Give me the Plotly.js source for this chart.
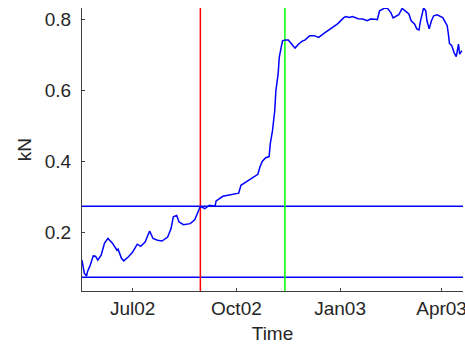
<!DOCTYPE html>
<html>
<head>
<meta charset="utf-8">
<script src="https://cdn.plot.ly/plotly-3.0.1.min.js"></script>
<style>
  html, body { margin: 0; padding: 0; background: #fff; }
  #chart { width: 465px; height: 345px; }
</style>
</head>
<body>
<div id="chart"></div>
<script>
// Daily load record, kN
const dates = [
  '2002-05-17','2002-05-19','2002-05-21','2002-05-22','2002-05-24','2002-05-27','2002-05-29','2002-05-31',
  '2002-06-03','2002-06-06','2002-06-09','2002-06-13','2002-06-17','2002-06-18','2002-06-21','2002-06-23','2002-06-27',
  '2002-07-01','2002-07-05','2002-07-08','2002-07-12','2002-07-16','2002-07-19','2002-07-23','2002-07-27','2002-08-01',
  '2002-08-04','2002-08-06','2002-08-09','2002-08-11','2002-08-15','2002-08-21','2002-08-25','2002-08-28','2002-08-30',
  '2002-09-03','2002-09-07','2002-09-12','2002-09-13','2002-09-19','2002-09-28',
  '2002-10-03','2002-10-05','2002-10-11','2002-10-16','2002-10-20','2002-10-22','2002-10-24','2002-10-27','2002-10-30','2002-10-31',
  '2002-11-02','2002-11-04','2002-11-05','2002-11-07','2002-11-08','2002-11-10','2002-11-11','2002-11-14','2002-11-16',
  '2002-11-20','2002-11-22','2002-11-25','2002-11-28',
  '2002-12-01','2002-12-05','2002-12-09','2002-12-13','2002-12-17','2002-12-21','2002-12-25','2002-12-30',
  '2003-01-04','2003-01-06','2003-01-09','2003-01-12','2003-01-17','2003-01-21','2003-01-25','2003-01-28',
  '2003-02-01','2003-02-03','2003-02-05','2003-02-09','2003-02-12','2003-02-15','2003-02-17','2003-02-20','2003-02-22','2003-02-25','2003-02-28',
  '2003-03-03','2003-03-05','2003-03-08','2003-03-10','2003-03-12','2003-03-13','2003-03-15','2003-03-16','2003-03-18','2003-03-19',
  '2003-03-21','2003-03-23','2003-03-25','2003-03-28',
  '2003-04-02','2003-04-04','2003-04-06','2003-04-07','2003-04-08','2003-04-10','2003-04-12','2003-04-14','2003-04-15','2003-04-16','2003-04-17','2003-04-19'
];
const loadKN = [
  0.122,0.086,0.077,0.091,0.105,0.134,0.133,0.122,
  0.136,0.170,0.183,0.170,0.150,0.153,0.127,0.120,0.131,
  0.145,0.167,0.161,0.173,0.204,0.183,0.178,0.176,0.187,
  0.211,0.244,0.248,0.230,0.222,0.225,0.236,0.260,0.274,
  0.267,0.277,0.274,0.289,0.302,0.309,
  0.311,0.333,0.345,0.356,0.364,0.386,0.401,0.411,0.414,0.450,
  0.487,0.544,0.600,0.647,0.694,0.727,0.741,0.743,0.743,
  0.727,0.720,0.731,0.739,
  0.743,0.755,0.755,0.750,0.760,0.769,0.778,0.789,
  0.805,0.809,0.806,0.809,0.803,0.802,0.797,0.802,
  0.801,0.800,0.825,0.832,0.832,0.820,0.805,0.811,0.814,0.832,0.823,
  0.816,0.797,0.788,0.774,0.771,0.792,0.820,0.833,0.825,0.797,
  0.774,0.797,0.811,0.814,
  0.806,0.795,0.783,0.760,0.733,0.727,0.708,0.696,0.713,0.731,0.703,0.713
];

// Event markers (vertical) and threshold levels (horizontal)
const eventDates = ['2002-08-30', '2002-11-13'];
const eventColors = ['#ff0000', '#00ff00'];
const thresholds = [0.274, 0.074];

const xRange = ['2002-05-17', '2003-04-20'];
const yRange = [0.035, 0.833];

const xTickVals = ['2002-07-01', '2002-10-01', '2003-01-01', '2003-04-01'];
const xTickText = ['Jul02', 'Oct02', 'Jan03', 'Apr03'];
const yTickVals = [0.2, 0.4, 0.6, 0.8];
const yTickText = ['0.2', '0.4', '0.6', '0.8'];

const traces = [];

thresholds.forEach(v => {
  traces.push({
    x: xRange, y: [v, v], mode: 'lines', type: 'scatter',
    line: { color: '#0000ff', width: 1.5 }, hoverinfo: 'skip'
  });
});

eventDates.forEach((d, i) => {
  traces.push({
    x: [d, d], y: yRange, mode: 'lines', type: 'scatter',
    line: { color: eventColors[i], width: 1.5 }, hoverinfo: 'skip'
  });
});

traces.push({
  x: dates, y: loadKN, mode: 'lines', type: 'scatter',
  line: { color: '#0000ff', width: 1.5 }
});

const axisCommon = {
  showline: true, linecolor: '#404040', linewidth: 1,
  ticks: 'inside', ticklen: 3, tickcolor: '#404040', tickwidth: 1,
  showgrid: false, zeroline: false, mirror: false,
  ticklabeloverflow: 'allow',
  tickfont: { family: 'Liberation Sans, Arial, sans-serif', size: 19, color: '#262626' }
};

const layout = {
  width: 465, height: 345,
  margin: { l: 82, r: 2, t: 8, b: 54, pad: 0 },
  paper_bgcolor: '#ffffff', plot_bgcolor: '#ffffff',
  showlegend: false,
  xaxis: Object.assign({}, axisCommon, {
    type: 'date', range: xRange,
    tickmode: 'array', tickvals: xTickVals, ticktext: xTickText,
    ticklabelstandoff: 0,
    title: { text: 'Time', standoff: 8,
             font: { family: 'Liberation Sans, Arial, sans-serif', size: 19, color: '#262626' } }
  }),
  yaxis: Object.assign({}, axisCommon, {
    range: yRange,
    tickmode: 'array', tickvals: yTickVals, ticktext: yTickText,
    ticklabelstandoff: 6,
    title: { text: 'kN', standoff: 8,
             font: { family: 'Liberation Sans, Arial, sans-serif', size: 19, color: '#262626' } }
  })
};

Plotly.newPlot('chart', traces, layout, { displayModeBar: false, staticPlot: true });
</script>
</body>
</html>
